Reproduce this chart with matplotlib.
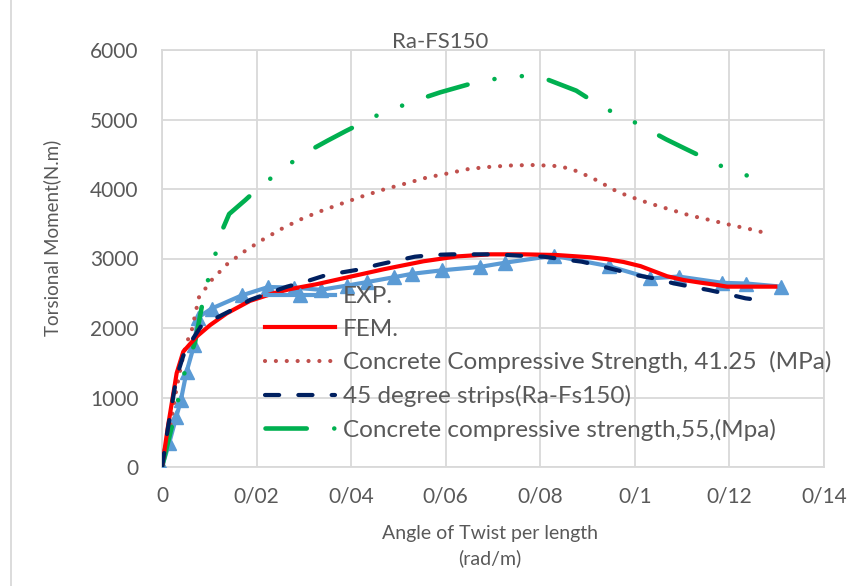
import matplotlib
matplotlib.use("Agg")
import matplotlib.pyplot as plt
from matplotlib.lines import Line2D

plt.rcParams['font.family'] = ['Lato', 'DejaVu Sans']

# EXP. (experimental points)
exp_x = [0, 0.0015, 0.003, 0.004, 0.0052, 0.0068, 0.0076, 0.0105, 0.0169, 0.0225, 0.028,
         0.0336, 0.0391, 0.0433, 0.049, 0.0529, 0.0592, 0.0673, 0.0726, 0.0828, 0.0945,
         0.1033, 0.1093, 0.1185, 0.1236, 0.131]
exp_y = [0, 340, 715, 964, 1371, 1755, 2150, 2280, 2470, 2590, 2580, 2550, 2610, 2660, 2730,
         2780, 2830, 2880, 2940, 3040, 2890, 2715, 2740, 2650, 2640, 2595]

# FEM.
fem_x = [0, 0.0013, 0.0031, 0.0045, 0.0073, 0.0102, 0.0137, 0.0186, 0.0236, 0.0271, 0.0327,
         0.0398, 0.0468, 0.0553, 0.0624, 0.0694, 0.0765, 0.0835, 0.0906, 0.0941, 0.0976,
         0.1012, 0.1068, 0.1103, 0.1139, 0.1174, 0.1195, 0.1244, 0.1297]
fem_y = [0, 600, 1350, 1660, 1875, 2043, 2211, 2390, 2500, 2560, 2630, 2738, 2844, 2960, 3030,
         3060, 3060, 3050, 3017, 2990, 2950, 2890, 2745, 2690, 2652, 2619, 2595, 2595, 2595]

# Concrete Compressive Strength, 41.25 (MPa)
c41_x = [0, 0.001, 0.002, 0.003, 0.004, 0.005, 0.0063, 0.0078, 0.0105, 0.0138, 0.0176, 0.0214,
         0.0255, 0.0297, 0.0339, 0.0382, 0.0426, 0.0470, 0.0516, 0.056, 0.0605, 0.065, 0.0696,
         0.0742, 0.0788, 0.0835, 0.0858, 0.088, 0.0901, 0.0921, 0.0942, 0.0962, 0.0984, 0.1028,
         0.1072, 0.1116, 0.1161, 0.1207, 0.1252, 0.1274]
c41_y = [0, 300, 700, 1100, 1450, 1750, 1970, 2440, 2690, 2920, 3110, 3275, 3435, 3575, 3690,
         3795, 3900, 3995, 4080, 4165, 4225, 4290, 4320, 4340, 4345, 4330, 4300, 4250, 4185,
         4120, 4040, 3965, 3905, 3800, 3710, 3620, 3550, 3475, 3410, 3370]

# 45 degree strips (Ra-Fs150)
s45_x = [0, 0.0013, 0.0031, 0.0045, 0.0059, 0.0084, 0.0109, 0.0155, 0.0186, 0.0225, 0.0264,
         0.0303, 0.0341, 0.0377, 0.0419, 0.0454, 0.0493, 0.0535, 0.0571, 0.0613, 0.0652, 0.0691,
         0.073, 0.0768, 0.0807, 0.0849, 0.0888, 0.0934, 0.1001, 0.104, 0.1082, 0.1118, 0.1156,
         0.1195, 0.1234, 0.1273]
s45_y = [0, 580, 1300, 1600, 1780, 2040, 2125, 2283, 2403, 2500, 2594, 2666, 2748, 2796, 2844,
         2906, 2965, 3026, 3050, 3060, 3060, 3060, 3050, 3036, 3026, 2988, 2954, 2882, 2763,
         2715, 2643, 2594, 2547, 2489, 2427, 2393]

# Concrete compressive strength, 55 (Mpa)
c55_x = [0, 0.0029, 0.0045, 0.0070, 0.0091, 0.0104, 0.0125, 0.0142, 0.0176, 0.0209, 0.0274,
         0.0310, 0.0350, 0.0389, 0.0461, 0.0502, 0.0546, 0.0588, 0.0666, 0.0710, 0.0756, 0.0800,
         0.0876, 0.0913, 0.0953, 0.0994, 0.1066, 0.1105, 0.1146, 0.1186, 0.1263]
c55_y = [0, 810, 1300, 1800, 2550, 2835, 3370, 3640, 3840, 4045, 4380, 4545, 4695, 4835, 5080,
         5185, 5295, 5390, 5540, 5590, 5625, 5615, 5415, 5255, 5105, 4980, 4715, 4585, 4450,
         4320, 4130]

x_ticks = [0, 0.02, 0.04, 0.06, 0.08, 0.10, 0.12, 0.14]
x_tick_labels = ["0", "0/02", "0/04", "0/06", "0/08", "0/1", "0/12", "0/14"]
y_ticks = [0, 1000, 2000, 3000, 4000, 5000, 6000]

text_col = "#595959"
grid_col = "#d9d9d9"

fig = plt.figure(figsize=(8.68, 5.86), dpi=100)
ax = fig.add_axes([162 / 868, 1 - 467 / 586, (824 - 162) / 868, (467 - 50) / 586])

lw = 3.0
ax.plot(exp_x, exp_y, color="#5B9BD5", lw=lw, marker="^", ms=9.5, label="EXP.", zorder=3)
ax.plot(fem_x, fem_y, color="#FF0000", lw=lw, label="FEM.", zorder=4)
ax.plot(c41_x, c41_y, color="#C0504D", lw=lw, linestyle=(0, (0.01, 2.6)),
        dash_capstyle="round", label="Concrete Compressive Strength, 41.25  (MPa)", zorder=3)
ax.plot(s45_x, s45_y, color="#002060", lw=lw, linestyle=(0, (3.4, 4.6)),
        dash_capstyle="round", label="45 degree strips(Ra-Fs150)", zorder=5)
ax.plot(c55_x, c55_y, color="#00B050", lw=3.3, linestyle=(0, (9, 6, 0.01, 6, 0.01, 6)),
        dash_capstyle="round", label="Concrete compressive strength,55,(Mpa)", zorder=3)

ax.set_xlim(0, 0.14)
ax.set_ylim(0, 6000)
ax.set_xticks(x_ticks)
ax.set_xticklabels(x_tick_labels)
ax.set_yticks(y_ticks)
ax.grid(True, color=grid_col, lw=1.3)
ax.set_axisbelow(True)
for s in ax.spines.values():
    s.set_color(grid_col)
    s.set_linewidth(1.3)
ax.tick_params(length=0, labelsize=15, labelcolor=text_col)
ax.tick_params(axis="x", pad=14)
ax.tick_params(axis="y", pad=17)

fig.text(440 / 868, 1 - 42 / 586, "Ra-FS150", ha="center", va="center", fontsize=16, color=text_col)
fig.text(490 / 868, 1 - 534 / 586, "Angle of Twist per length", ha="center", va="center",
         fontsize=14, color=text_col)
fig.text(490 / 868, 1 - 558 / 586, "(rad/m)", ha="center", va="center", fontsize=14, color=text_col)
fig.text(52 / 868, 1 - 238 / 586, "Torsional Moment(N.m)", ha="center", va="center",
         rotation=90, fontsize=13.5, color=text_col)

leg = ax.legend(loc="upper left", bbox_to_anchor=(265 / 868, 1 - 286 / 586),
                bbox_transform=fig.transFigure, frameon=False, fontsize=17.5,
                handlelength=2.9, handletextpad=0.3, labelspacing=0.48, borderaxespad=0,
                borderpad=0)
for t in leg.get_texts():
    t.set_color(text_col)

fig.add_artist(Line2D([11 / 868, 11 / 868], [0, 1], color=grid_col, lw=1.3))

fig.savefig("out.png", dpi=100)
